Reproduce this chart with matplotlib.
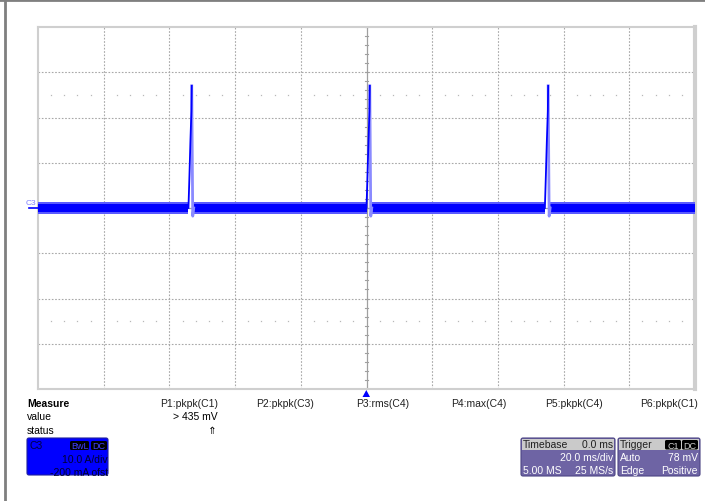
import numpy as np
import matplotlib
matplotlib.use("Agg")
import matplotlib.pyplot as plt
from matplotlib.patches import FancyBboxPatch, Rectangle, Polygon
from matplotlib.lines import Line2D

plt.rcParams['font.family'] = ['Liberation Sans', 'DejaVu Sans']

# scope settings (20 ms/div, 10 A/div)
time_per_div = 20.0
amp_per_div = 10.0

# trace: three current pulses on a flat noisy baseline
pulse_starts = [-54.2, 0.0, 54.3]                 # ms
rise_dt = [0.0, 0.3, 0.6, 0.9, 1.0]              # ms after start
rise_amp = [0.0, 7.1, 14.8, 21.4, 27.0]          # A
fall_dt = [1.0, 1.3, 1.6]
fall_amp = [27.0, -1.8, 0.0]
noise_core = 0.9     # A, dense part of the baseline band
noise_edge = 1.25    # A, sparse outer part

# measurement table
meas_labels = ["P1:pkpk(C1)", "P2:pkpk(C3)", "P3:rms(C4)", "P4:max(C4)", "P5:pkpk(C4)", "P6:pkpk(C1)"]
meas_right = [218, 314, 409, 506, 603, 698]
p1_value = "> 435 mV"

W, H = 705, 502
fig = plt.figure(figsize=(W / 100, H / 100), dpi=100)

# ---- graticule ----
ax = fig.add_axes([38 / W, 1 - 390 / H, 657 / W, 362 / H])
ax.set_xlim(-5 * time_per_div, 5 * time_per_div)
ax.set_ylim(-4 * amp_per_div, 4 * amp_per_div)
ax.set_xticks([]); ax.set_yticks([])
for s in ax.spines.values():
    s.set_color('#cfcfcf'); s.set_linewidth(1.5)
ax.spines['right'].set_linewidth(3)

grid_kw = dict(color='#a8a8a8', lw=0.8, ls=(0, (1.5, 1.5)), zorder=1)
for k in [-4, -3, -2, -1, 1, 2, 3, 4]:
    ax.axvline(k * time_per_div, **grid_kw)
for k in [-3, -2, -1, 1, 2, 3]:
    ax.axhline(k * amp_per_div, **grid_kw)
ax.axvline(0, color='#a0a0a0', lw=0.9, zorder=1)
ax.axhline(0, color='#a0a0a0', lw=0.9, zorder=1)

# minor ticks on center axes
for yy in np.arange(-40, 40.1, 2):
    ax.plot([-0.6, 0.6], [yy, yy], color='#a0a0a0', lw=0.8, zorder=1)
for xx in np.arange(-100, 100.1, 4):
    ax.plot([xx, xx], [-0.6, 0.6], color='#a0a0a0', lw=0.8, zorder=1)

# dotted rows at +/-2.5 div
dot_x = [x for x in np.arange(-96, 100, 4) if abs(x % 20) > 1e-6]
for yy in [2.5 * amp_per_div, -2.5 * amp_per_div]:
    ax.plot(dot_x, [yy] * len(dot_x), ls='none', marker='s', ms=0.9,
            color='#b8b8b8', mec='none', zorder=1)

# ---- trace ----
blue = '#0000ff'
seg_edges = [-100] + [t for p in pulse_starts for t in (p, p + fall_dt[-1])] + [100]
for a, b in zip(seg_edges[0::2], seg_edges[1::2]):
    ax.fill_between([a, b], -noise_edge, noise_edge, color='#5a5aff', lw=0, zorder=3)
    ax.fill_between([a, b], -noise_core, noise_core, color=blue, lw=0, zorder=4)
for p in pulse_starts:
    ax.plot([p + d for d in fall_dt], fall_amp, color='#8a8aff', lw=2.0, zorder=4)
    ax.plot([p + d for d in rise_dt], rise_amp, color=blue, lw=1.3, zorder=5)

# ---- overlay in pixel coordinates ----
ov = fig.add_axes([0, 0, 1, 1])
ov.set_xlim(0, W); ov.set_ylim(H, 0)
ov.axis('off')
ov.patch.set_alpha(0)

ov.add_line(Line2D([5, 5], [0, H], color='#7f7f7f', lw=2))
ov.add_line(Line2D([0, W], [0.5, 0.5], color='#7f7f7f', lw=2))

# channel marker
ov.text(26, 204, "C3", fontsize=6, color='#8080ff', ha='left', va='center')
ov.add_line(Line2D([29, 38], [209, 209], color=blue, lw=1.2))
# trigger marker
ov.add_patch(Polygon([[362.5, 398], [370, 398], [366.3, 391]], closed=True, color=blue, lw=0))

fs = 7.5
ov.text(27, 404, "Measure", fontsize=fs, fontweight='bold', va='center')
ov.text(27, 417, "value", fontsize=fs, va='center')
ov.text(27, 431, "status", fontsize=fs, va='center')
for lab, xr in zip(meas_labels, meas_right):
    ov.text(xr, 404, lab, fontsize=fs, ha='right', va='center', color='#202020')
ov.text(meas_right[0], 417, p1_value, fontsize=fs, ha='right', va='center')
ov.text(212, 431, "\u21d1", fontsize=fs, ha='center', va='center',
        family=['DejaVu Sans'])


def tag(x0, x1, y0, y1, s, tc):
    ov.add_patch(FancyBboxPatch((x0, y0), x1 - x0, y1 - y0,
                                boxstyle='round,pad=0,rounding_size=1.5',
                                fc='black', ec='none'))
    ov.text((x0 + x1) / 2, (y0 + y1) / 2 + 0.5, s, fontsize=6.5, color=tc,
            ha='center', va='center')


# C3 channel box
ov.add_patch(FancyBboxPatch((27, 439), 81, 37, boxstyle='round,pad=0,rounding_size=2',
                            fc='#0000ff', ec='#2020a0', lw=0.8))
ov.text(30, 446.5, "C3", fontsize=fs, color='#000040', va='center')
tag(70, 89, 442, 451, "BwL", '#4040ff')
tag(91, 107, 442, 451, "DC", '#4040ff')
ov.text(108, 460, "10.0 A/div", fontsize=fs, color='#000030', ha='right', va='center')
ov.text(108, 473, "-200 mA ofst", fontsize=fs, color='#000030', ha='right', va='center',
        clip_on=True)

# timebase + trigger boxes
purple = '#6e64a4'
for x0, x1 in [(521, 615), (618, 700)]:
    ov.add_patch(FancyBboxPatch((x0, 439), x1 - x0, 38, boxstyle='round,pad=0,rounding_size=2',
                                fc=purple, ec='#4c4484', lw=0.8))
ov.add_patch(Rectangle((522, 440), 92, 11, fc='#cacaca', ec='none'))
ov.add_patch(Rectangle((619, 440), 80, 11, fc='#cacaca', ec='none'))

ov.text(523, 445.5, "Timebase", fontsize=fs, color='#202020', va='center')
ov.text(613, 445.5, "0.0 ms", fontsize=fs, color='#202020', ha='right', va='center')
ov.text(613, 458.5, "20.0 ms/div", fontsize=fs, color='white', ha='right', va='center')
ov.text(523, 471, "5.00 MS", fontsize=fs, color='white', va='center')
ov.text(613, 471, "25 MS/s", fontsize=fs, color='white', ha='right', va='center')

ov.text(620, 445.5, "Trigger", fontsize=fs, color='#202020', va='center')
tag(665, 681, 441, 450.5, "C1", '#d0d0d0')
tag(682, 698, 441, 450.5, "DC", '#d0d0d0')
ov.text(620, 458.5, "Auto", fontsize=fs, color='white', va='center')
ov.text(698, 458.5, "78 mV", fontsize=fs, color='white', ha='right', va='center')
ov.text(620, 471, "Edge", fontsize=fs, color='white', va='center')
ov.text(698, 471, "Positive", fontsize=fs, color='white', ha='right', va='center')

fig.savefig("out.png", dpi=100)
